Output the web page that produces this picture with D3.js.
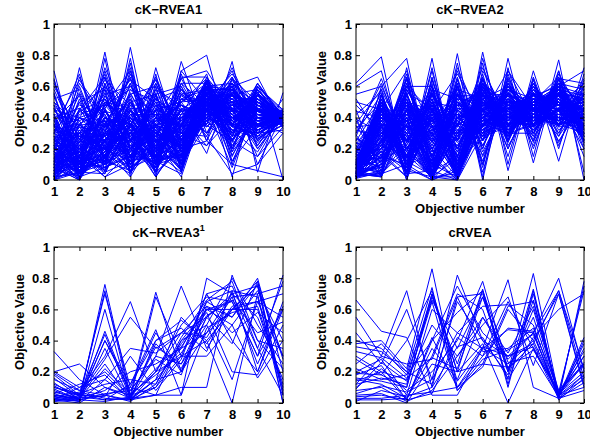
<!DOCTYPE html>
<html><head><meta charset="utf-8">
<script src="https://cdn.jsdelivr.net/npm/d3@7"></script>
<style>body{margin:0;background:#fff}svg{display:block}text{font-family:"Liberation Sans",Arial,sans-serif;font-weight:bold}</style>
</head><body>
<script>
const objectives = [1,2,3,4,5,6,7,8,9,10];
const yTicks = [0,0.2,0.4,0.6,0.8,1];
const titles = ["cK\u2212RVEA1","cK\u2212RVEA2","cK\u2212RVEA3","cRVEA"];

const ckrvea1 = [
[.70,.05,.10,.20,.30,.15,.50,.40,.35,.40],[.65,.10,.82,.05,.72,.20,.45,.70,.30,.38],
[.02,.72,.05,.85,.10,.76,.30,.60,.66,.35],[.40,.00,.78,.02,.68,.05,.60,.02,.60,.45],
[.30,.68,.10,.78,.02,.70,.80,.20,.40,.36],[.10,.45,.60,.15,.55,.60,.25,.76,.05,.56],
[.00,.60,.20,.70,.25,.45,.17,.65,.50,.40],[.50,.20,.40,.30,.50,.20,.55,.30,.58,.00],
[.25,.35,.55,.60,.40,.65,.70,.45,.20,.42],[.15,.05,.30,.45,.15,.35,.62,.15,.48,.38],
[.45,.40,.25,.55,.60,.10,.40,.55,.30,.52],[.05,.15,.70,.25,.45,.50,.65,.35,.55,.34],
[.35,.02,.45,.10,.35,.30,.50,.68,.45,.40],[.20,.55,.15,.50,.20,.62,.35,.25,.62,.37],
[.60,.30,.50,.35,.65,.25,.48,.50,.15,.44],[.08,.25,.35,.65,.10,.55,.58,.40,.38,.30],
[.55,.12,.62,.20,.52,.40,.45,.62,.25,.41],[.12,.50,.20,.40,.30,.15,.60,.10,.55,.39],
[.28,.08,.48,.70,.05,.68,.25,.58,.42,.43],[.42,.38,.10,.58,.40,.35,.52,.28,.60,.33],
[.18,.62,.38,.08,.62,.22,.66,.45,.22,.46],[.03,.18,.58,.32,.28,.58,.40,.72,.35,.36],
[.48,.28,.28,.48,.48,.08,.55,.38,.50,.40],[.22,.45,.66,.18,.58,.48,.30,.55,.28,.35],
[.38,.04,.18,.62,.18,.62,.62,.20,.58,.42],[.58,.22,.52,.28,.38,.28,.44,.66,.40,.38],
[.14,.32,.32,.52,.12,.52,.58,.32,.18,.44],[.32,.48,.42,.12,.55,.18,.48,.48,.52,.40],
[.06,.10,.60,.42,.42,.42,.68,.12,.45,.37],[.52,.58,.22,.68,.25,.65,.38,.60,.32,.39],
[.26,.14,.72,.35,.62,.32,.52,.35,.62,.41],[.44,.35,.38,.22,.32,.55,.42,.52,.38,.36],
[.16,.42,.48,.58,.50,.12,.64,.22,.48,.43],[.36,.06,.26,.42,.22,.45,.56,.42,.25,.38],
[.62,.26,.56,.10,.45,.38,.46,.30,.55,.35],[.10,.52,.14,.75,.08,.60,.34,.56,.42,.40],
[.46,.16,.44,.30,.58,.25,.60,.18,.60,.42],[.24,.40,.64,.48,.35,.50,.28,.62,.30,.37],
[.04,.30,.36,.62,.15,.70,.50,.40,.50,.44],[.56,.02,.50,.38,.66,.30,.54,.45,.35,.39],
[.30,.56,.24,.55,.30,.40,.45,.25,.15,.34],[.20,.20,.54,.26,.52,.18,.63,.50,.44,.41],
[.40,.46,.34,.66,.20,.58,.40,.35,.58,.38],[.12,.12,.46,.15,.40,.35,.58,.58,.22,.45],
[.50,.34,.16,.50,.55,.10,.36,.65,.40,.36],[.34,.64,.40,.36,.28,.52,.50,.28,.62,.40],
[.00,.24,.68,.20,.48,.26,.42,.52,.30,.32],[.64,.08,.30,.72,.12,.66,.66,.36,.55,.43],
[.18,.50,.58,.05,.60,.44,.30,.48,.46,.38],[.28,.30,.20,.44,.36,.20,.56,.60,.10,.42],
[.08,.44,.52,.32,.05,.55,.46,.08,.50,.40],[.46,.18,.36,.60,.46,.35,.62,.42,.36,.37],
[.22,.05,.62,.25,.56,.06,.52,.55,.58,.41],[.38,.54,.12,.52,.14,.48,.40,.32,.27,.35],
[.14,.36,.44,.40,.64,.30,.60,.62,.48,.39],[.54,.10,.66,.14,.34,.62,.48,.20,.60,.44],
[.02,.66,.28,.56,.24,.38,.56,.44,.34,.36],[.32,.26,.50,.46,.44,.16,.64,.38,.52,.40],
[.42,.02,.08,.34,.06,.40,.22,.50,.42,.38],[.26,.40,.46,.64,.52,.58,.44,.66,.20,.42],
[.05,.20,.30,.25,.35,.40,.50,.45,.40,.38],[.10,.02,.25,.40,.20,.30,.45,.55,.35,.40],
[.00,.15,.40,.30,.45,.25,.55,.40,.45,.42],[.12,.30,.15,.35,.25,.45,.42,.30,.50,.36],
[.20,.08,.35,.20,.40,.15,.60,.50,.30,.40],[.02,.25,.20,.45,.15,.35,.48,.60,.38,.39],
[.30,.10,.45,.15,.30,.50,.52,.25,.55,.41],[.08,.35,.28,.38,.10,.28,.40,.48,.42,.37],
[.15,.00,.50,.28,.42,.20,.58,.35,.28,.43],[.25,.18,.12,.48,.22,.42,.46,.62,.48,.38],
[.03,.40,.32,.18,.48,.32,.54,.28,.36,.40],[.18,.12,.22,.32,.32,.10,.44,.52,.52,.36],
[.35,.28,.38,.22,.18,.38,.62,.40,.32,.42],[.00,.05,.18,.42,.28,.22,.50,.58,.44,.39],
[.22,.22,.42,.12,.38,.48,.38,.22,.40,.41],[.40,.14,.26,.36,.14,.26,.56,.44,.58,.37],
[.06,.32,.10,.26,.44,.18,.64,.34,.30,.40],[.14,.04,.34,.50,.24,.44,.42,.56,.46,.38],
[.28,.24,.48,.30,.08,.34,.52,.12,.34,.44],[.01,.16,.24,.16,.36,.56,.48,.46,.52,.40],
[.32,.36,.16,.44,.26,.12,.58,.38,.24,.36],[.10,.10,.44,.22,.50,.30,.36,.64,.40,.42],
[.45,.26,.30,.40,.16,.40,.60,.30,.50,.39],[.04,.46,.20,.34,.30,.24,.44,.50,.36,.38],
[.24,.06,.36,.10,.40,.36,.54,.26,.44,.41],[.16,.20,.14,.46,.20,.50,.62,.42,.56,.40],
[.36,.02,.40,.26,.34,.14,.40,.54,.32,.37],[.02,.28,.26,.38,.12,.42,.50,.36,.48,.43],
[.12,.38,.46,.14,.46,.20,.46,.60,.26,.38],[.26,.14,.20,.30,.28,.32,.56,.16,.42,.40],
[.08,.00,.32,.52,.18,.46,.34,.48,.54,.36],[.20,.30,.52,.20,.36,.06,.60,.40,.38,.42],
[.00,.10,.14,.36,.52,.38,.48,.32,.30,.39],[.34,.20,.28,.08,.22,.28,.52,.56,.46,.41],
[.14,.44,.36,.28,.06,.52,.44,.24,.52,.38],[.42,.08,.12,.42,.32,.22,.58,.46,.36,.40],
[.06,.24,.40,.18,.42,.34,.38,.58,.44,.37],[.30,.34,.18,.54,.12,.16,.62,.36,.28,.43],
[.18,.02,.30,.24,.48,.44,.50,.28,.58,.39],[.00,.18,.54,.40,.26,.26,.56,.50,.34,.40],
[.38,.12,.22,.16,.38,.48,.42,.40,.48,.36],[.10,.40,.34,.46,.18,.36,.64,.18,.40,.42],
[.22,.06,.16,.34,.44,.10,.46,.54,.50,.38],[.04,.26,.44,.22,.30,.40,.54,.44,.26,.41],
[.28,.16,.10,.50,.20,.30,.48,.62,.42,.39],[.16,.30,.38,.12,.54,.22,.58,.34,.54,.40],
[.48,.04,.26,.36,.10,.46,.40,.48,.38,.37],[.02,.36,.18,.26,.40,.18,.52,.26,.46,.43],
[.24,.10,.48,.44,.24,.34,.60,.58,.32,.38],[.12,.22,.06,.30,.34,.54,.44,.38,.56,.40],
[.30,.20,.30,.30,.20,.30,.28,.04,.10,.30],[.20,.10,.25,.40,.30,.20,.25,.10,.06,.02],
[.25,.30,.20,.25,.35,.30,.22,.40,.45,.40],
[.02,.05,.15,.20,.10,.15,.45,.35,.40,.38],[.05,.12,.08,.15,.22,.08,.50,.45,.35,.40],
[.10,.02,.20,.08,.15,.25,.40,.50,.45,.36],[.00,.08,.12,.28,.05,.20,.55,.30,.50,.42],
[.15,.18,.05,.12,.18,.05,.48,.40,.30,.39],[.08,.00,.25,.05,.28,.12,.42,.55,.42,.41],
[.20,.10,.18,.22,.08,.30,.60,.35,.38,.37],[.03,.22,.10,.35,.12,.18,.38,.48,.52,.40],
[.12,.06,.30,.10,.25,.10,.52,.42,.28,.43],[.25,.15,.02,.18,.32,.22,.46,.25,.48,.38],
[.06,.28,.22,.05,.20,.35,.56,.52,.40,.40],[.18,.04,.14,.30,.02,.28,.44,.36,.56,.36],
[.01,.14,.28,.14,.26,.02,.50,.58,.34,.42],[.30,.20,.06,.25,.14,.16,.58,.44,.44,.39],
[.09,.01,.20,.02,.30,.24,.36,.46,.38,.41],[.14,.26,.12,.20,.06,.32,.62,.30,.52,.37],
[.04,.10,.34,.12,.16,.14,.48,.54,.46,.40],[.22,.05,.04,.38,.24,.06,.54,.34,.36,.43],
[.07,.20,.26,.08,.34,.26,.40,.50,.50,.38],[.16,.12,.16,.26,.10,.40,.46,.40,.30,.40],
[.00,.30,.08,.18,.28,.10,.60,.46,.44,.36],[.26,.02,.22,.32,.04,.20,.52,.28,.54,.42],
[.11,.16,.36,.06,.22,.34,.44,.56,.40,.39],[.05,.08,.10,.24,.36,.16,.38,.38,.48,.41],
[.19,.24,.30,.16,.12,.04,.56,.50,.34,.38],[.02,.04,.18,.34,.18,.28,.50,.32,.42,.40],
[.13,.18,.02,.10,.26,.18,.42,.44,.56,.37],[.28,.08,.24,.28,.16,.36,.64,.52,.38,.43],
[.06,.32,.14,.04,.32,.12,.48,.36,.46,.39],[.17,.00,.32,.20,.08,.24,.54,.48,.32,.41],
[.03,.16,.06,.36,.20,.08,.46,.42,.50,.38],[.23,.28,.20,.12,.40,.30,.40,.30,.44,.40],
[.10,.06,.38,.22,.10,.20,.58,.54,.40,.36],[.32,.14,.12,.06,.24,.14,.44,.40,.52,.42],
[.01,.22,.26,.30,.14,.38,.52,.46,.36,.40],[.15,.10,.08,.16,.30,.06,.62,.34,.48,.39],
[.08,.34,.30,.26,.02,.26,.38,.58,.42,.37],[.21,.02,.16,.08,.20,.16,.56,.38,.28,.43],
[.04,.18,.04,.40,.16,.32,.48,.50,.54,.41],[.27,.12,.28,.14,.34,.10,.50,.26,.40,.38]
];

const ckrvea2 = [
[.62,.79,.05,.78,.00,.82,.10,.70,.20,.72],[.60,.70,.10,.70,.05,.75,.06,.65,.12,.68],
[.55,.60,.78,.02,.81,.02,.78,.15,.77,.00],[.50,.45,.70,.05,.75,.00,.72,.11,.70,.05],
[.45,.02,.66,.00,.65,.10,.68,.20,.65,.62],[.40,.05,.60,.60,.02,.70,.40,.60,.30,.60],
[.35,.10,.50,.45,.40,.65,.30,.50,.60,.55],[.30,.55,.20,.40,.55,.30,.60,.40,.55,.30],
[.25,.50,.15,.55,.35,.45,.35,.55,.25,.50],[.20,.40,.30,.30,.60,.20,.65,.30,.65,.25],
[.15,.35,.05,.65,.10,.60,.25,.62,.35,.45],[.10,.30,.40,.20,.50,.40,.45,.45,.50,.20],
[.05,.25,.55,.10,.70,.25,.55,.35,.60,.35],[.03,.20,.65,.35,.30,.55,.20,.58,.40,.65],
[.02,.15,.10,.50,.20,.50,.50,.25,.68,.40],[.04,.60,.25,.42,.45,.35,.40,.48,.45,.28],
[.08,.05,.45,.00,.60,.05,.62,.30,.58,.15],[.12,.48,.00,.62,.00,.68,.15,.66,.22,.60],
[.18,.38,.35,.25,.48,.42,.70,.38,.52,.32],[.22,.02,.72,.05,.15,.62,.35,.60,.45,.50],
[.28,.65,.20,.48,.38,.48,.30,.42,.62,.38],[.32,.28,.48,.38,.52,.28,.58,.52,.30,.58],
[.38,.12,.62,.15,.66,.15,.48,.28,.70,.22],[.42,.56,.12,.58,.25,.58,.28,.62,.38,.45],
[.48,.32,.38,.42,.42,.38,.40,.40,.50,.35],[.02,.45,.28,.32,.58,.52,.60,.46,.56,.30],
[.06,.18,.52,.05,.50,.30,.38,.56,.48,.62],[.10,.52,.08,.72,.05,.78,.22,.48,.28,.52],
[.14,.08,.58,.28,.62,.10,.66,.34,.66,.42],[.20,.42,.42,.48,.35,.45,.32,.44,.42,.40],
[.26,.22,.68,.12,.72,.35,.52,.22,.60,.70],[.30,.62,.18,.52,.15,.66,.26,.64,.24,.55],
[.34,.36,.32,.38,.45,.32,.44,.38,.54,.28],[.04,.02,.40,.02,.30,.72,.36,.50,.58,.48],
[.08,.28,.60,.44,.68,.40,.62,.42,.64,.33],[.16,.48,.22,.60,.02,.60,.42,.58,.36,.60],
[.24,.14,.50,.22,.55,.22,.56,.32,.50,.26],[.36,.58,.02,.66,.10,.56,.24,.60,.32,.46],
[.44,.40,.46,.34,.40,.48,.46,.46,.46,.38],[.52,.26,.64,.08,.60,.12,.64,.24,.62,.58],
[.03,.10,.36,.40,.36,.64,.34,.54,.44,.36],[.07,.54,.14,.56,.28,.38,.60,.36,.56,.44],
[.11,.34,.44,.18,.64,.18,.50,.50,.66,.24],[.17,.04,.56,.46,.08,.52,.30,.62,.28,.64],
[.23,.44,.26,.50,.46,.44,.40,.40,.40,.40],[.27,.16,.54,.26,.56,.26,.58,.30,.52,.32],
[.33,.50,.10,.64,.20,.62,.20,.56,.34,.56],[.39,.30,.34,.36,.50,.36,.46,.44,.48,.42],
[.02,.24,.62,.10,.48,.58,.32,.48,.58,.50],[.05,.38,.16,.54,.32,.46,.54,.40,.46,.34],
[.09,.12,.46,.24,.60,.20,.62,.34,.62,.20],[.13,.58,.24,.44,.12,.54,.36,.52,.38,.62],
[.19,.20,.58,.30,.54,.34,.48,.42,.55,.30],[.21,.46,.30,.60,.26,.64,.38,.58,.44,.52],
[.29,.06,.48,.16,.44,.16,.52,.26,.64,.46],[.02,.33,.38,.46,.18,.40,.28,.38,.40,.36],
[.04,.50,.08,.58,.52,.50,.44,.52,.50,.40],[.06,.22,.66,.04,.62,.08,.70,.46,.60,.28],
[.02,.30,.20,.40,.10,.50,.30,.50,.40,.35],[.05,.40,.10,.30,.30,.40,.35,.45,.55,.30],
[.03,.20,.35,.10,.45,.30,.40,.35,.50,.45],[.08,.45,.05,.50,.05,.60,.25,.55,.35,.40],
[.04,.10,.50,.20,.40,.35,.50,.40,.60,.25],[.10,.35,.30,.05,.55,.25,.45,.50,.45,.50],
[.01,.25,.45,.35,.20,.55,.30,.30,.55,.35],[.12,.50,.15,.45,.15,.45,.55,.45,.40,.42],
[.06,.15,.40,.25,.35,.65,.28,.55,.50,.30],[.15,.30,.25,.55,.02,.38,.48,.40,.62,.48],
[.03,.55,.02,.40,.25,.50,.38,.48,.35,.55],[.09,.22,.55,.15,.50,.28,.52,.36,.58,.28],
[.02,.38,.18,.58,.08,.62,.32,.52,.42,.40],[.18,.12,.38,.05,.40,.45,.44,.30,.52,.36],
[.05,.42,.26,.32,.32,.32,.58,.44,.48,.50],[.11,.28,.48,.22,.48,.58,.26,.56,.38,.32],
[.02,.18,.08,.48,.12,.40,.42,.34,.60,.44],[.07,.48,.32,.12,.58,.22,.50,.46,.44,.26],
[.14,.08,.42,.38,.22,.52,.36,.38,.56,.52],[.03,.34,.14,.52,.04,.48,.46,.52,.36,.38],
[.20,.26,.60,.28,.42,.36,.30,.42,.52,.34],[.04,.52,.22,.02,.36,.56,.54,.28,.46,.46],
[.08,.16,.36,.44,.16,.30,.40,.50,.58,.30],[.01,.44,.04,.36,.46,.44,.34,.40,.40,.42],
[.16,.20,.52,.18,.28,.62,.48,.48,.54,.24],[.06,.36,.28,.56,.10,.34,.56,.36,.44,.56],
[.02,.06,.46,.08,.52,.50,.38,.54,.50,.36],[.10,.46,.12,.42,.24,.42,.44,.32,.62,.40],
[.13,.24,.40,.26,.38,.26,.50,.46,.36,.48],[.04,.32,.20,.50,.14,.58,.28,.58,.48,.32],
[.22,.14,.56,.14,.46,.38,.42,.40,.56,.44],[.03,.40,.34,.30,.06,.46,.52,.44,.42,.38],
[.09,.04,.24,.46,.34,.54,.36,.50,.60,.28],[.05,.28,.44,.04,.56,.32,.46,.36,.46,.50],
[.17,.50,.10,.38,.20,.48,.32,.42,.52,.36],[.02,.12,.30,.54,.30,.40,.58,.48,.38,.42],
[.07,.38,.50,.20,.44,.60,.40,.34,.58,.26],[.12,.22,.16,.34,.02,.36,.48,.56,.44,.46],
[.01,.46,.38,.10,.40,.28,.34,.42,.54,.40],[.24,.18,.26,.48,.26,.52,.54,.38,.40,.34],
[.04,.02,.54,.24,.48,.44,.30,.52,.62,.38],[.15,.34,.06,.56,.12,.56,.44,.46,.48,.52],
[.06,.26,.42,.16,.36,.34,.52,.40,.36,.30],[.10,.54,.20,.44,.08,.50,.38,.50,.56,.44],
[.02,.10,.34,.28,.50,.42,.46,.36,.50,.36],[.19,.30,.48,.06,.32,.30,.56,.44,.42,.48],
[.03,.42,.14,.40,.18,.62,.36,.54,.60,.32],[.08,.20,.58,.32,.42,.38,.42,.32,.46,.40],
[.05,.48,.24,.52,.04,.46,.50,.48,.38,.54],[.13,.14,.36,.12,.54,.54,.32,.40,.58,.42],
[.03,.03,.30,.02,.02,.55,.40,.45,.55,.45],[.04,.04,.20,.01,.40,.30,.60,.35,.45,.60],
[.02,.35,.10,.00,.40,.50,.40,.45,.50,.40],[.04,.20,.30,.02,.00,.55,.35,.40,.55,.45],
[.01,.45,.05,.40,.01,.45,.50,.50,.45,.35],[.06,.10,.40,.05,.35,.60,.30,.35,.60,.50],
[.03,.30,.20,.30,.05,.40,.45,.55,.40,.30],[.08,.50,.00,.45,.20,.35,.55,.45,.50,.40],
[.02,.15,.50,.00,.50,.30,.40,.40,.35,.55],[.05,.40,.25,.20,.02,.60,.35,.50,.55,.35],
[.10,.25,.35,.01,.30,.45,.50,.38,.45,.45],[.01,.05,.45,.35,.00,.50,.28,.52,.50,.30],
[.04,.38,.12,.03,.45,.28,.58,.42,.38,.48],[.12,.18,.02,.42,.10,.55,.42,.48,.58,.38],
[.02,.48,.38,.10,.02,.42,.36,.36,.42,.52],[.07,.08,.28,.00,.38,.62,.46,.54,.48,.32],
[.03,.28,.48,.25,.04,.36,.52,.40,.52,.44],[.09,.44,.06,.02,.28,.52,.30,.50,.36,.40],
[.01,.12,.32,.48,.00,.30,.56,.44,.56,.36],[.05,.34,.18,.04,.52,.48,.40,.34,.46,.50],
[.14,.20,.42,.30,.06,.58,.34,.52,.40,.28],[.02,.52,.08,.00,.18,.40,.48,.46,.54,.42],
[.06,.02,.36,.38,.02,.46,.38,.38,.50,.46],[.03,.26,.22,.01,.42,.34,.54,.48,.34,.36],
[.11,.42,.46,.14,.00,.64,.44,.42,.58,.54],[.01,.16,.02,.44,.34,.38,.32,.56,.44,.34],
[.04,.36,.26,.00,.08,.54,.50,.40,.48,.40],[.08,.06,.52,.20,.48,.28,.42,.50,.38,.48],
[.02,.46,.16,.02,.04,.50,.36,.44,.56,.30],[.05,.22,.40,.34,.22,.42,.56,.36,.42,.44],
[.13,.32,.04,.06,.00,.36,.46,.54,.52,.38],[.03,.10,.30,.00,.40,.60,.30,.46,.46,.50],
[.07,.40,.14,.28,.02,.44,.52,.40,.36,.42],[.01,.24,.44,.04,.30,.32,.40,.48,.58,.32],
[.06,.14,.20,.40,.06,.56,.48,.38,.44,.46],[.10,.50,.34,.00,.54,.38,.34,.52,.50,.36],
[.02,.04,.10,.16,.00,.48,.58,.44,.40,.54],[.04,.30,.56,.02,.14,.26,.44,.36,.54,.40],
[.08,.18,.06,.46,.02,.52,.38,.50,.48,.28],[.01,.44,.28,.08,.36,.40,.50,.42,.38,.44],
[.05,.08,.38,.00,.06,.62,.42,.48,.52,.38],[.12,.36,.12,.32,.26,.34,.54,.34,.46,.48]
];

const ckrvea3 = [
[.33,.15,.05,.02,.15,.20,.55,.70,.75,.30],[.20,.25,.10,.03,.30,.25,.60,.65,.30,.82],
[.02,.02,.76,.05,.10,.30,.40,.60,.78,.05],[.05,.03,.72,.03,.15,.35,.65,.72,.20,.60],
[.10,.05,.70,.10,.05,.40,.50,.80,.50,.25],[.03,.01,.60,.02,.20,.45,.55,.68,.70,.00],
[.08,.02,.46,.05,.71,.20,.45,.60,.60,.10],[.12,.05,.44,.03,.68,.30,.30,.50,.72,.40],
[.02,.03,.40,.12,.47,.05,.80,.70,.35,.05],[.05,.02,.40,.08,.30,.75,.35,.60,.65,.55],
[.15,.08,.30,.65,.20,.30,.70,.40,.20,.65],[.18,.05,.28,.55,.35,.45,.62,.55,.80,.20],
[.03,.04,.25,.02,.40,.53,.40,.00,.70,.75],[.20,.10,.20,.04,.36,.25,.50,.15,.65,.30],
[.06,.12,.18,.02,.10,.38,.58,.20,.18,.50],[.04,.01,.15,.03,.05,.10,.10,.82,.40,.22],
[.10,.06,.12,.15,.12,.40,.60,.60,.75,.08],[.02,.00,.10,.05,.20,.50,.68,.65,.30,.60],
[.07,.03,.08,.20,.25,.35,.45,.70,.55,.15],[.13,.02,.05,.10,.45,.20,.65,.55,.76,.00],
[.01,.05,.04,.30,.08,.28,.70,.75,.40,.35],[.04,.07,.03,.02,.15,.55,.38,.62,.65,.70],
[.09,.02,.06,.08,.28,.18,.62,.45,.58,.45],[.16,.04,.02,.03,.38,.22,.55,.38,.78,.28],
[.02,.10,.15,.35,.32,.45,.42,.68,.25,.62],[.06,.01,.35,.02,.05,.05,.48,.58,.62,.12],
[.11,.03,.22,.06,.18,.32,.56,.66,.45,.52],[.03,.06,.02,.12,.40,.48,.33,.72,.68,.06],
[.01,.02,.01,.04,.22,.36,.60,.50,.16,.40],[.19,.08,.05,.01,.12,.42,.66,.78,.35,.78]
];

const crvea = [
[.66,.46,.42,.05,.05,.35,.79,.10,.03,.08],[.55,.30,.72,.10,.68,.70,.20,.83,.05,.15],
[.45,.25,.60,.15,.82,.40,.30,.45,.80,.20],[.38,.40,.22,.86,.10,.30,.65,.35,.03,.78],
[.36,.33,.20,.74,.08,.25,.62,.65,.05,.75],[.30,.20,.15,.70,.20,.72,.10,.72,.03,.40],
[.28,.18,.10,.68,.25,.73,.12,.70,.04,.35],[.22,.15,.18,.66,.35,.68,.20,.60,.06,.30],
[.20,.28,.05,.60,.45,.35,.25,.40,.70,.10],[.18,.24,.02,.40,.75,.45,.30,.38,.72,.22],
[.15,.12,.03,.30,.70,.60,.15,.42,.60,.70],[.12,.30,.25,.28,.68,.33,.35,.48,.08,.25],
[.10,.22,.08,.20,.40,.78,.22,.55,.05,.18],[.08,.10,.01,.08,.30,.50,.68,.24,.70,.12],
[.05,.06,.00,.25,.20,.38,.00,.35,.07,.33],[.04,.05,.02,.06,.42,.30,.48,.46,.02,.16],
[.03,.03,.05,.07,.10,.23,.60,.40,.06,.20],[.02,.02,.03,.35,.15,.55,.28,.45,.04,.38],
[.12,.16,.12,.65,.08,.28,.34,.44,.05,.25],[.25,.38,.20,.12,.65,.40,.18,.73,.03,.13],
[.40,.35,.18,.40,.58,.72,.26,.30,.04,.42],[.14,.20,.02,.42,.10,.35,.47,.45,.72,.16],
[.19,.18,.40,.72,.20,.25,.23,.34,.07,.72],[.06,.11,.07,.15,.45,.62,.63,.50,.03,.18],
[.09,.26,.14,.50,.30,.55,.32,.62,.08,.24],[.33,.29,.16,.29,.22,.68,.22,.38,.06,.26],
[.01,.08,.04,.10,.36,.42,.16,.66,.05,.10],[.16,.14,.10,.70,.14,.36,.30,.36,.05,.30]
];

const datasets = [ckrvea1, ckrvea2, ckrvea3, crvea];
const W = 590, H = 444;
const panels = [
  {x0:54, x1:283, y0:24, y1:180},
  {x0:356, x1:584, y0:24, y1:180},
  {x0:54, x1:283, y0:247, y1:403},
  {x0:356, x1:584, y0:247, y1:403}
];
const FS = 13;

const svg = d3.select("body").append("svg").attr("width", W).attr("height", H);

panels.forEach((p, i) => {
  const x = d3.scaleLinear().domain([1,10]).range([p.x0, p.x1]);
  const y = d3.scaleLinear().domain([0,1]).range([p.y1, p.y0]);
  const g = svg.append("g");
  const line = d3.line().x((d,j) => x(objectives[j])).y(d => y(d));
  g.append("g").selectAll("path").data(datasets[i]).join("path")
    .attr("d", line).attr("fill","none").attr("stroke","#0000ff").attr("stroke-width",1);

  const tl = 4;
  const ax = (axis, tr) => {
    const a = g.append("g").attr("transform", tr).call(axis);
    a.select(".domain").remove();
    a.selectAll("line").attr("stroke","#000");
    a.selectAll("text").attr("font-size", FS).attr("font-weight","bold").attr("fill","#000")
      .attr("font-family","Liberation Sans, Arial, sans-serif");
    return a;
  };
  ax(d3.axisBottom(x).tickValues(objectives).tickSizeInner(-tl).tickSizeOuter(0).tickPadding(7).tickFormat(d3.format("d")), `translate(0,${p.y1})`);
  ax(d3.axisTop(x).tickValues(objectives).tickSizeInner(-tl).tickSizeOuter(0).tickFormat(""), `translate(0,${p.y0})`);
  ax(d3.axisLeft(y).tickValues(yTicks).tickSizeInner(-tl).tickSizeOuter(0).tickPadding(4).tickFormat(d => d === 0 || d === 1 ? d3.format("d")(d) : d3.format(".1f")(d)), `translate(${p.x0},0)`);
  ax(d3.axisRight(y).tickValues(yTicks).tickSizeInner(-tl).tickSizeOuter(0).tickFormat(""), `translate(${p.x1},0)`);

  g.append("rect").attr("x", p.x0).attr("y", p.y0).attr("width", p.x1 - p.x0).attr("height", p.y1 - p.y0)
    .attr("fill","none").attr("stroke","#000").attr("stroke-width",1);

  const cx = (p.x0 + p.x1) / 2;
  const t = g.append("text").attr("x", cx).attr("y", p.y0 - 10.5).attr("text-anchor","middle")
    .attr("font-size", FS).text(titles[i]);
  if (i === 2) t.append("tspan").attr("font-size", 9).attr("dy", -6).text("1");

  g.append("text").attr("x", cx).attr("y", p.y1 + 33).attr("text-anchor","middle")
    .attr("font-size", FS).text("Objective number");
  g.append("text").attr("transform", `translate(${p.x0 - 30},${(p.y0+p.y1)/2 - 3}) rotate(-90)`)
    .attr("text-anchor","middle").attr("font-size", FS).text("Objective Value");
});
</script>
</body></html>
